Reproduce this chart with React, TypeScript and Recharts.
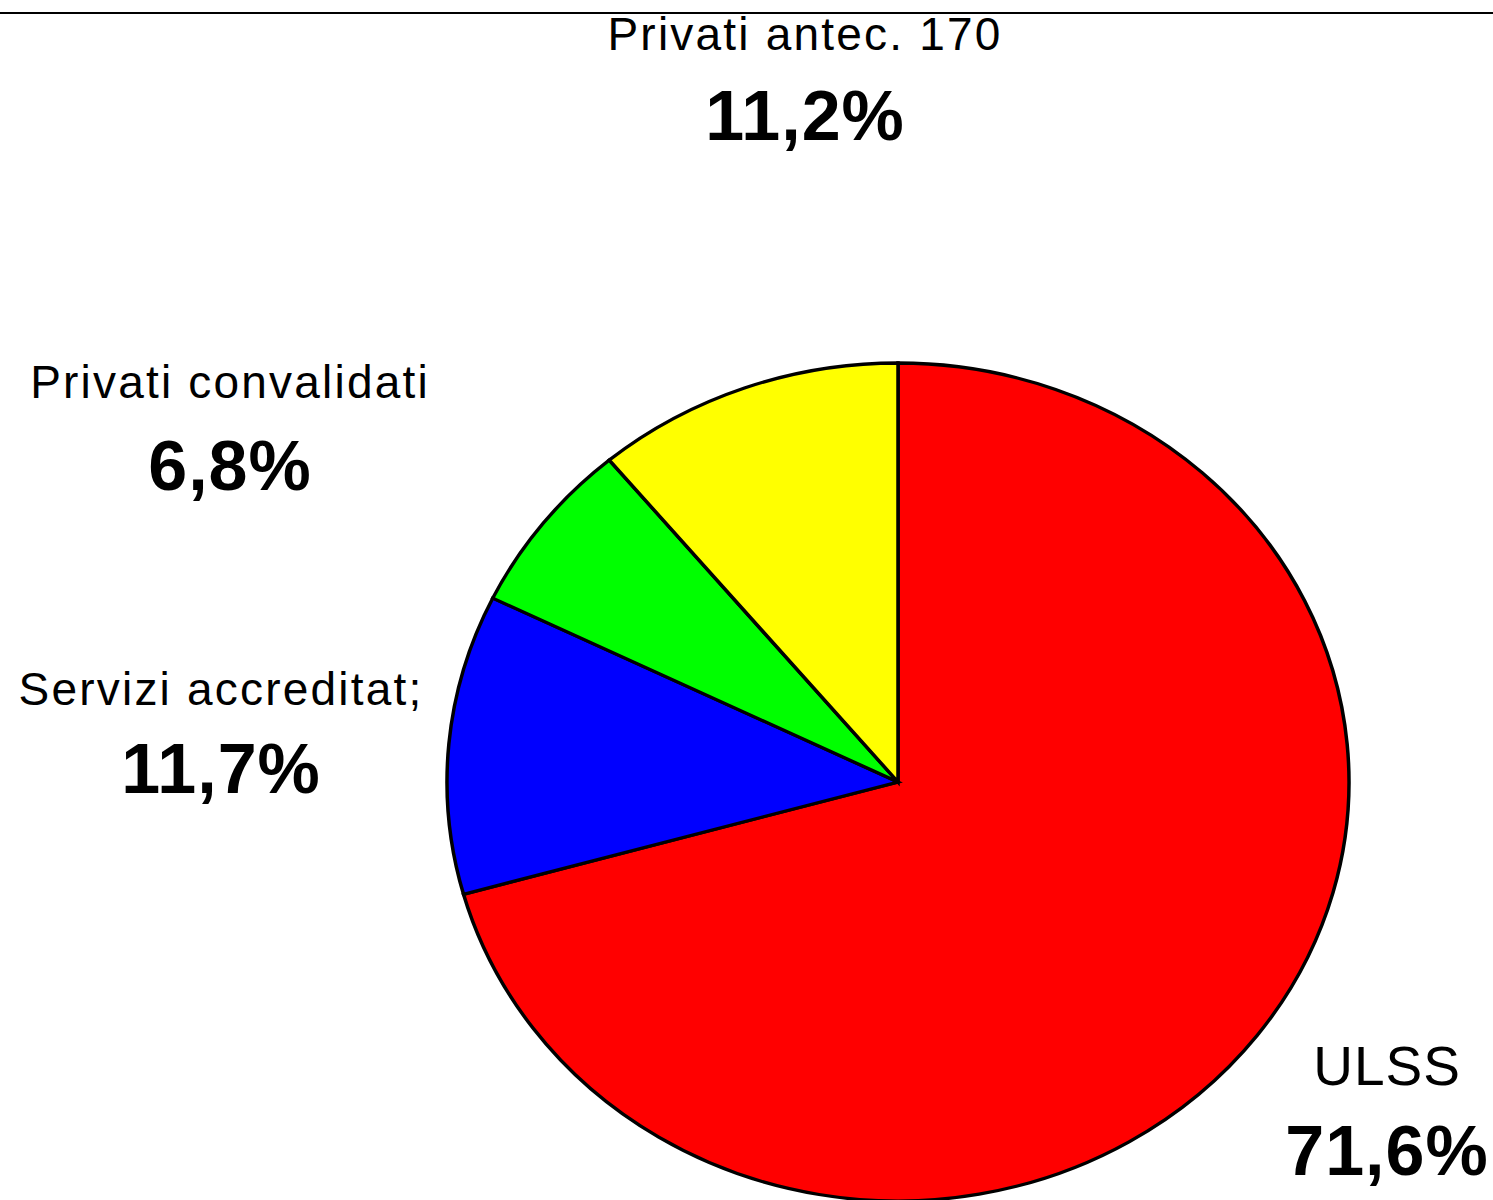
import React from "react";
import { PieChart, Pie, Cell } from "recharts";

const CATEGORIES = ["ULSS", "Servizi accreditat;", "Privati convalidati", "Privati antec. 170"];
const SHARES = [71.6, 11.7, 6.8, 11.2];
const COLORS = ["#ff0000", "#0000ff", "#00ff00", "#ffff00"];

const data = CATEGORIES.map((name, i) => ({ name, value: SHARES[i] }));

// label layout (text centres / baselines, name font size)
const LABEL_POS = [
  { x: 1387, nameY: 1085, pctY: 1175, nameSize: 55 },
  { x: 221, nameY: 705, pctY: 793, nameSize: 46 },
  { x: 230, nameY: 398, pctY: 490, nameSize: 46 },
  { x: 805, nameY: 50, pctY: 140, nameSize: 46 },
];

const W = 1493;
const H = 1200;
const CX = 898;
const CY = 782;
const RX = 451;
const RY = 419;
const SY = RY / RX;
const FONT = "'Liberation Sans', Arial, sans-serif";

// the reference pie is an ellipse: squash the sectors vertically around the centre
const squashCss = `.ellipse-pie .recharts-pie-sector { transform: matrix(1, 0, 0, ${SY}, 0, ${CY * (1 - SY)}); }`;

function renderLabel(props: any) {
  const p = LABEL_POS[props.index];
  if (!p) return null;
  const pct = SHARES[props.index].toFixed(1).replace(".", ",") + "%";
  return (
    <g>
      <text
        x={p.x}
        y={p.nameY}
        textAnchor="middle"
        fontFamily={FONT}
        fontSize={p.nameSize}
        letterSpacing={p.nameSize > 50 ? 1 : 2.2}
        fill="#000"
      >
        {props.name}
      </text>
      <text x={p.x} y={p.pctY} textAnchor="middle" fontFamily={FONT} fontSize={70} fontWeight="bold" letterSpacing={1} fill="#000">
        {pct}
      </text>
    </g>
  );
}

export default function App() {
  return (
    <div className="ellipse-pie" style={{ position: "absolute", left: 0, top: 0, width: W, height: H, background: "#fff" }}>
      <style>{squashCss}</style>
      <div style={{ position: "absolute", left: 0, top: 12, width: W, height: 2, background: "#000" }} />
      <PieChart width={W} height={H} margin={{ top: 0, right: 0, bottom: 0, left: 0 }}>
        <Pie
          data={data}
          dataKey="value"
          nameKey="name"
          cx={CX}
          cy={CY}
          outerRadius={RX}
          startAngle={90}
          endAngle={-270}
          stroke="#000"
          strokeWidth={3.5}
          label={renderLabel}
          labelLine={false}
          isAnimationActive={false}
        >
          {data.map((_, i) => (
            <Cell key={i} fill={COLORS[i]} />
          ))}
        </Pie>
      </PieChart>
    </div>
  );
}
